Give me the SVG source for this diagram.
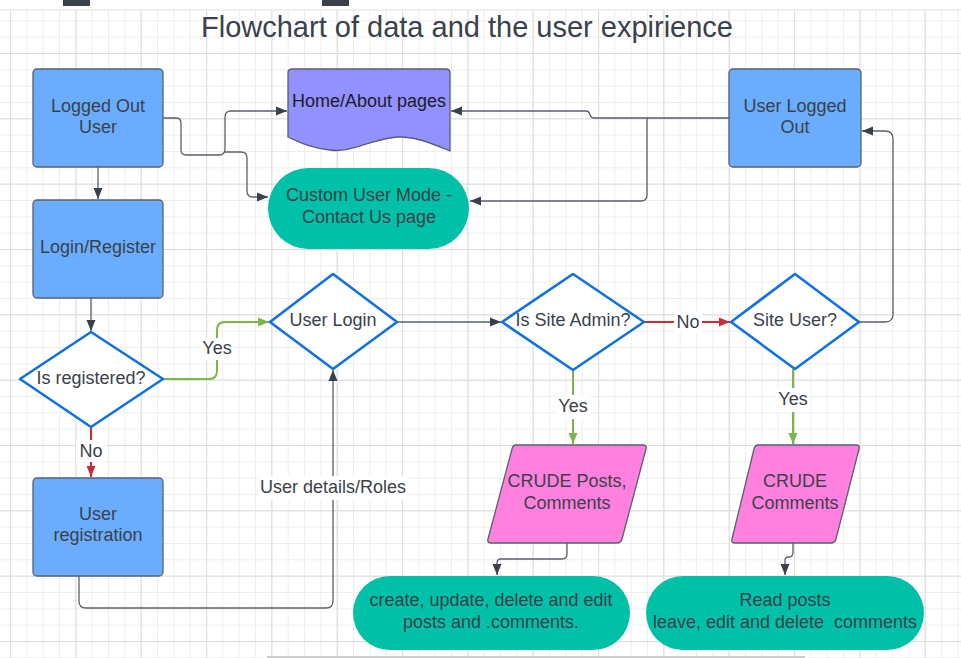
<svg xmlns="http://www.w3.org/2000/svg" width="961" height="658" viewBox="0 0 961 658">
<defs>
<pattern id="gmin" patternUnits="userSpaceOnUse" x="10" y="53" width="16.333" height="16.333">
<path d="M0,0.5 H16.333 M0.5,0 V16.333" fill="none" stroke="#ededed" stroke-width="1"/>
</pattern>
<pattern id="gmaj" patternUnits="userSpaceOnUse" x="10" y="53" width="65.333" height="65.333">
<path d="M0,0.5 H65.333 M0.5,0 V65.333" fill="none" stroke="#dcdcdc" stroke-width="1.2"/>
</pattern>
<marker id="ad" markerUnits="userSpaceOnUse" markerWidth="12" markerHeight="10" refX="11" refY="5" orient="auto">
<path d="M0,0.5 L11,5 L0,9.5 z" fill="#3a414a"/>
</marker>
<marker id="ag" markerUnits="userSpaceOnUse" markerWidth="12" markerHeight="10" refX="11" refY="5" orient="auto">
<path d="M0,0.5 L11,5 L0,9.5 z" fill="#7ab648"/>
</marker>
<marker id="ar" markerUnits="userSpaceOnUse" markerWidth="12" markerHeight="10" refX="11" refY="5" orient="auto">
<path d="M0,0.5 L11,5 L0,9.5 z" fill="#c92d39"/>
</marker>
<style>
text{font-family:"Liberation Sans",Arial,sans-serif;font-size:18px;fill:#3a414a;text-anchor:middle;white-space:pre}
.box{fill:#6aadff;stroke:#59606b;stroke-width:1.3}
.dia{fill:#ffffff;stroke:#1071e5;stroke-width:2.6;stroke-linejoin:round}
.pill{fill:#00c1a7}
.para{fill:#ff80df;stroke:#59606b;stroke-width:1.3;stroke-linejoin:round}
.c{fill:none;stroke:#59606b;stroke-width:1.3}
.cg{fill:none;stroke:#7ab648;stroke-width:2}
.cr{fill:none;stroke:#c92d39;stroke-width:2}
.lbg{fill:#ffffff}
</style>
</defs>
<rect x="0" y="0" width="961" height="658" fill="#ffffff"/>
<rect x="0" y="10" width="961" height="648" fill="url(#gmin)"/>
<rect x="0" y="10" width="961" height="648" fill="url(#gmaj)"/>
<line x1="0" y1="10" x2="961" y2="10" stroke="#e2e2e2" stroke-width="1"/>
<rect x="63" y="0" width="27" height="6" fill="#3a414a"/>
<rect x="322" y="0" width="27" height="6" fill="#3a414a"/>
<rect x="267" y="656" width="538" height="2" fill="#cccccc"/>

<text x="467" y="37" style="font-size:29px">Flowchart of data and the user expirience</text>

<g id="connectors">
<path class="c" d="M163,118 H176 Q181,118 181,123 V150 Q181,155 186,155 H219 Q225,155 225,149 V117 Q225,111 231,111 H287" marker-end="url(#ad)"/>
<path class="c" d="M225,152 H241 Q247,152 247,158 V191 Q247,197 253,197 H268" marker-end="url(#ad)"/>
<path class="c" d="M98,167 V199" marker-end="url(#ad)"/>
<path class="c" d="M91,298 V331" marker-end="url(#ad)"/>
<path class="cg" d="M163,379 H209 Q217,379 217,371 V330 Q217,322 225,322 H269" marker-end="url(#ag)"/>
<path class="cr" d="M91,428 V477" marker-end="url(#ar)"/>
<path class="c" d="M79,576 V601 Q79,608 86,608 H326 Q333,608 333,601 V370" marker-end="url(#ad)"/>
<path class="c" d="M397,322 H501" marker-end="url(#ad)"/>
<path class="cr" d="M644,322 H730" marker-end="url(#ar)"/>
<path class="cg" d="M573,370 V444" marker-end="url(#ag)"/>
<path class="cg" d="M793,369 V444" marker-end="url(#ag)"/>
<path class="c" d="M859,322 H885 Q893,322 893,314 V139 Q893,131 885,131 H862" marker-end="url(#ad)"/>
<path class="c" d="M729,118 H594 Q591,118 590,115 Q589,111 586,111 H451" marker-end="url(#ad)"/>
<path class="c" d="M647,118 V195 Q647,201 641,201 H470" marker-end="url(#ad)"/>
<path class="c" d="M567,543 V554 Q567,559 562,559 H501 Q497,559 497,563 V575" marker-end="url(#ad)"/>
<path class="c" d="M793,543 V552 Q793,557 789,557 H788 Q785,557 785,561 V575" marker-end="url(#ad)"/>
<rect class="lbg" x="200" y="338" width="34" height="22"/>
<text x="217" y="354">Yes</text>
<rect class="lbg" x="76" y="440" width="30" height="22"/>
<text x="91" y="457">No</text>
<rect class="lbg" x="258" y="476" width="150" height="24"/>
<text x="333" y="493">User details/Roles</text>
<rect class="lbg" x="674" y="311" width="28" height="22"/>
<text x="688" y="328">No</text>
<rect class="lbg" x="556" y="395" width="34" height="24"/>
<text x="573" y="412">Yes</text>
<rect class="lbg" x="776" y="388" width="34" height="24"/>
<text x="793" y="405">Yes</text>
</g>

<g id="logged-out-user">
<rect class="box" x="33" y="69" width="130" height="98" rx="4"/>
<text x="98" y="112">Logged Out</text>
<text x="98" y="133">User</text>
</g>
<g id="login-register">
<rect class="box" x="33" y="200" width="130" height="98" rx="4"/>
<text x="98" y="253">Login/Register</text>
</g>
<g id="is-registered">
<path class="dia" d="M91,332 L163,379 L91,427 L20,379 Z"/>
<text x="91" y="384">Is registered?</text>
</g>
<g id="user-registration">
<rect class="box" x="33" y="478" width="130" height="98" rx="4"/>
<text x="98" y="520">User</text>
<text x="98" y="541">registration</text>
</g>
<g id="home-about">
<path d="M292,69 H446 Q450,69 450,73 V151 C420,138 405,135 390,138 C365,142 350,153 330,150 C310,148 300,142 288,137 V73 Q288,69 292,69 Z" fill="#9391ff" stroke="#59606b" stroke-width="1.3"/>
<text x="369" y="107" style="fill:#1c1c24">Home/About pages</text>
</g>
<g id="custom-user-mode">
<rect class="pill" x="268" y="168" width="201" height="81" rx="40.5"/>
<text x="369" y="201">Custom User Mode -</text>
<text x="369" y="223">Contact Us page</text>
</g>
<g id="user-logged-out">
<rect class="box" x="729" y="69" width="132" height="98" rx="4"/>
<text x="795" y="112">User Logged</text>
<text x="795" y="133">Out</text>
</g>
<g id="user-login">
<path class="dia" d="M333,274 L397,322 L333,369 L270,322 Z"/>
<text x="333" y="326">User Login</text>
</g>
<g id="is-site-admin">
<path class="dia" d="M573,274 L644,322 L573,370 L502,322 Z"/>
<text x="573" y="326">Is Site Admin?</text>
</g>
<g id="site-user">
<path class="dia" d="M795,274 L859,322 L795,369 L731,322 Z"/>
<text x="795" y="326">Site User?</text>
</g>
<g id="crude-posts">
<path class="para" d="M516,445 H643 Q647,445 646,449 L622,539 Q621,543 617,543 H491 Q487,543 488,539 L512,449 Q513,445 516,445 Z"/>
<text x="567" y="487">CRUDE Posts,</text>
<text x="567" y="509">Comments</text>
</g>
<g id="crude-comments">
<path class="para" d="M758,445 H856 Q860,445 859,449 L836,539 Q835,543 831,543 H735 Q731,543 732,539 L754,449 Q755,445 758,445 Z"/>
<text x="795" y="487">CRUDE</text>
<text x="795" y="509">Comments</text>
</g>
<g id="create-update">
<rect class="pill" x="353" y="576" width="277" height="74" rx="37"/>
<text x="491" y="606">create, update, delete and edit</text>
<text x="491" y="628">posts and .comments.</text>
</g>
<g id="read-posts">
<rect class="pill" x="646" y="576" width="278" height="74" rx="37"/>
<text x="785" y="606">Read posts</text>
<text x="785" y="628">leave, edit and delete  comments</text>
</g>
</svg>
